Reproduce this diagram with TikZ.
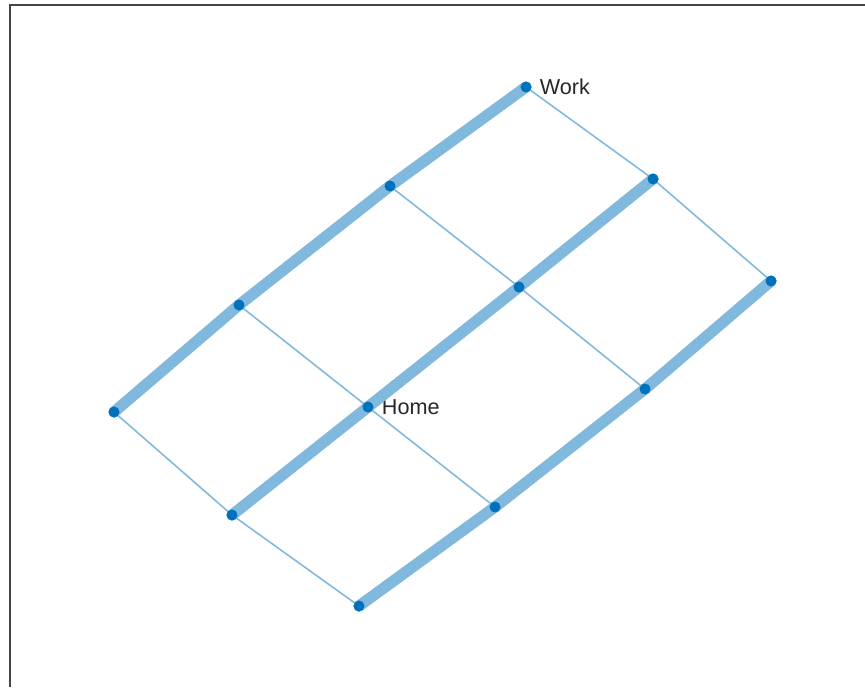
\documentclass[tikz,border=0pt]{standalone}
\usepackage{fontspec}
\setmainfont{Liberation Sans}
\usetikzlibrary{positioning}
\definecolor{PathBlue}{HTML}{0072BD}
\definecolor{FrameGray}{HTML}{454545}
\definecolor{LabelGray}{HTML}{262626}

\begin{document}
\begin{tikzpicture}[x=0.02cm, y=-0.02cm,
                vertex/.style={circle, fill=PathBlue, inner sep=0pt, minimum size=0.22cm},
                place/.style={font=\fontsize{12.3}{14}\selectfont, text=LabelGray, inner sep=1pt, xshift=0.12cm},
                thin edge/.style={draw=PathBlue!50, line width=0.9pt},
                thick edge/.style={draw=PathBlue!50, line width=6.4pt}]
                \useasboundingbox (0,0) rectangle (865,687);
                \draw[FrameGray, line width=1.1pt] (10,687) -- (10,5) -- (865,5);

                \node[vertex, label={[place]right:Work}] (n1) at (526,87) {};
                \node[vertex] (n2) at (390,186) {};
                \node[vertex] (n3) at (239,305) {};
                \node[vertex] (n4) at (114,412) {};
                \node[vertex] (n5) at (653,179) {};
                \node[vertex] (n6) at (519,287) {};
                \node[vertex, label={[place]right:Home}] (n7) at (368,407) {};
                \node[vertex] (n8) at (232,515) {};
                \node[vertex] (n9) at (771,281) {};
                \node[vertex] (n10) at (645,389) {};
                \node[vertex] (n11) at (495,507) {};
                \node[vertex] (n12) at (359,606) {};

                % thin links
                \draw[thin edge] (n1.center) -- (n5.center);
                \draw[thin edge] (n5.center) -- (n9.center);
                \draw[thin edge] (n2.center) -- (n6.center);
                \draw[thin edge] (n6.center) -- (n10.center);
                \draw[thin edge] (n3.center) -- (n7.center);
                \draw[thin edge] (n7.center) -- (n11.center);
                \draw[thin edge] (n4.center) -- (n8.center);
                \draw[thin edge] (n8.center) -- (n12.center);

                % thick links
                \draw[thick edge] (n4.center) -- (n3.center);
                \draw[thick edge] (n3.center) -- (n2.center);
                \draw[thick edge] (n2.center) -- (n1.center);
                \draw[thick edge] (n8.center) -- (n7.center);
                \draw[thick edge] (n7.center) -- (n6.center);
                \draw[thick edge] (n6.center) -- (n5.center);
                \draw[thick edge] (n12.center) -- (n11.center);
                \draw[thick edge] (n11.center) -- (n10.center);
                \draw[thick edge] (n10.center) -- (n9.center);

                \foreach \n in {1,...,12}
                    \fill[PathBlue] (n\n) circle (0.11cm);
            \end{tikzpicture}
\end{document}
